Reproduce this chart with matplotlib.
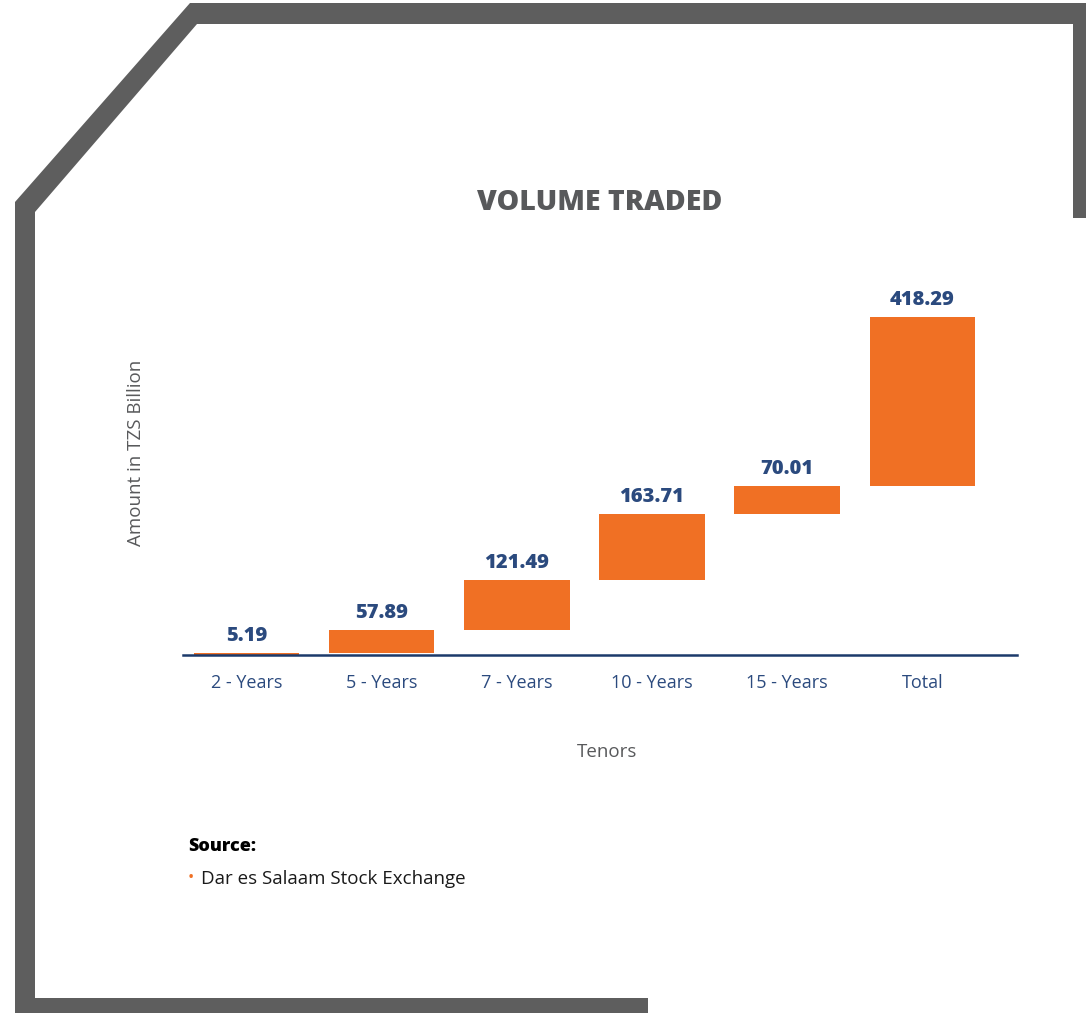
import numpy as np
import matplotlib.pyplot as plt
from matplotlib.patches import Polygon

# data
tenors = ['2 - Years', '5 - Years', '7 - Years', '10 - Years', '15 - Years', 'Total']
volumes = [5.19, 57.89, 121.49, 163.71, 70.01]
total = 418.29

values = volumes + [total]
# waterfall: each bar starts where the previous one ended, total floats on top
bottoms = list(np.concatenate([[0], np.cumsum(volumes)[:-1]])) + [sum(volumes)]

orange = '#f07024'
navy = '#2b4a7e'
grey = '#58595b'
W, H = 1086, 1013

plt.rcParams['font.family'] = ['Open Sans', 'DejaVu Sans']

fig = plt.figure(figsize=(W / 100, H / 100), dpi=100)

# frame around the page
frame_px = [(1086, 3), (190, 3), (15, 202), (15, 1013), (648, 1013), (648, 998),
            (35, 998), (35, 212), (197, 24), (1073, 24), (1073, 218), (1086, 218)]
frame = Polygon([(x / W, 1 - y / H) for x, y in frame_px], closed=True,
                facecolor='#5e5e5e', edgecolor='none', transform=fig.transFigure)
fig.patches.append(frame)

ax = fig.add_axes([183 / W, 1 - 655 / H, (1017 - 183) / W, (655 - 280) / H])
x = np.arange(len(tenors))
ax.bar(x, values, bottom=bottoms, width=0.78, color=orange)

for i in range(len(tenors)):
    ax.annotate(f'{values[i]:.2f}', (x[i], bottoms[i] + values[i]),
                xytext=(0, 5), textcoords='offset points', ha='center', va='bottom',
                fontsize=14.5, fontweight='heavy', color=navy)

ax.set_xlim(-0.47, 5.70)
ax.set_ylim(0, 928)
ax.set_xticks(x)
ax.set_xticklabels(tenors, fontsize=13, color=navy)
ax.tick_params(axis='x', length=0, pad=14)
ax.set_yticks([])
for s in ['top', 'right', 'left']:
    ax.spines[s].set_visible(False)
ax.spines['bottom'].set_color('#1c3a6b')
ax.spines['bottom'].set_linewidth(1.8)
ax.patch.set_alpha(0)

ax.set_xlabel('Tenors', fontsize=13.5, color=grey)
ax.xaxis.set_label_coords(0.508, -0.235)
ax.set_ylabel('Amount in TZS Billion', fontsize=13.5, color=grey)
ax.yaxis.set_label_coords(-0.046, 0.539)

fig.text(600 / W, 1 - 202 / H, 'VOLUME TRADED', ha='center', va='center',
         fontsize=20.5, fontweight='heavy', color=grey)

fig.text(188 / W, 1 - 846 / H, 'Source:', ha='left', va='center',
         fontsize=13, fontweight='heavy', color='black')
fig.text(188 / W, 1 - 878 / H, '•', ha='left', va='center', fontsize=12, color=orange)
fig.text(201 / W, 1 - 879 / H, 'Dar es Salaam Stock Exchange', ha='left', va='center',
         fontsize=13.5, color='#1a1a1a')

plt.savefig('out.png', dpi=100)
